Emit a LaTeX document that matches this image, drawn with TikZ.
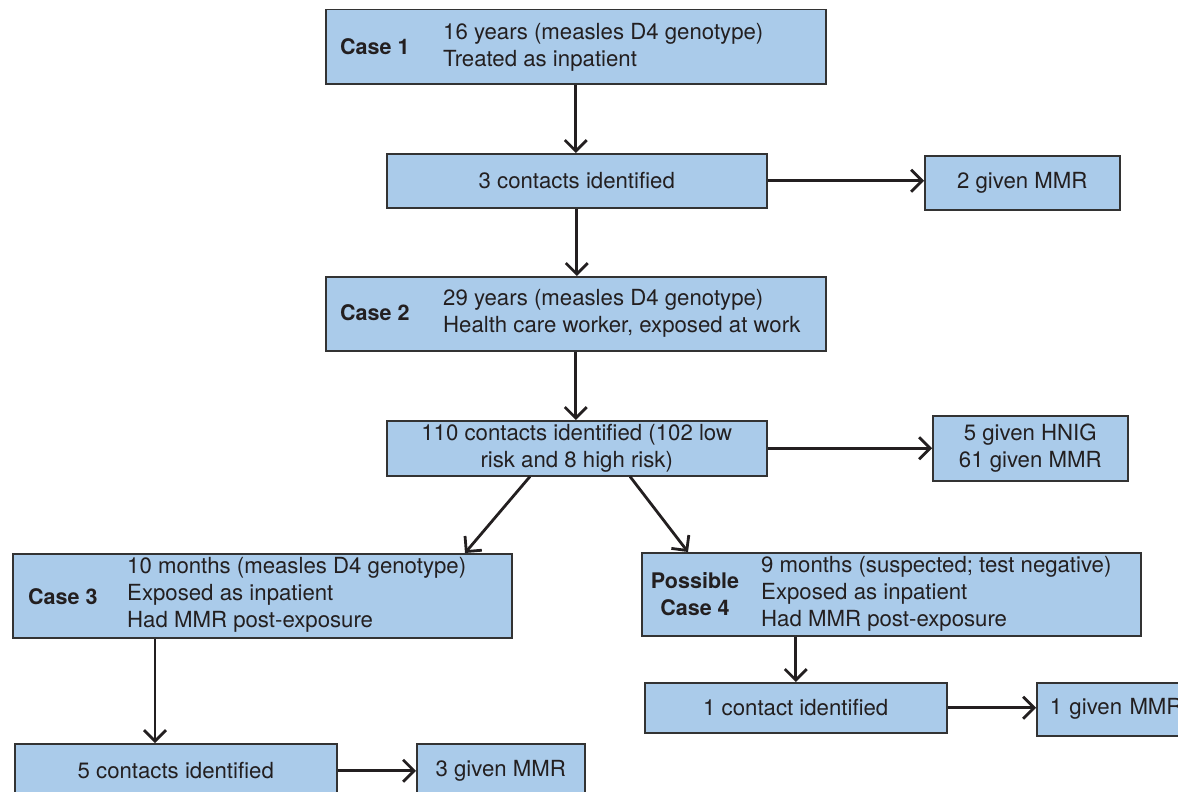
\documentclass[tikz,border=0pt]{standalone}
\usepackage{fontspec}
\setmainfont{TeX Gyre Heros}
\usetikzlibrary{arrows.meta,calc}
\definecolor{boxfill}{HTML}{AACBEA}
\definecolor{boxline}{HTML}{333333}
\definecolor{ink}{HTML}{231F20}
\begin{document}
\begin{tikzpicture}[x=1pt,y=-1pt,
  every node/.style={text=ink,font=\fontsize{22.2}{27}\selectfont},
  box/.style={draw=boxline,fill=boxfill,line width=1.5pt,anchor=north west,inner sep=0pt,align=center},
  lbl/.style={anchor=west,inner sep=0pt,font=\fontsize{21.5}{27}\selectfont\bfseries},
  txt/.style={anchor=west,inner sep=0pt,align=left},
  arr/.style={draw=ink,line width=2.8pt,-{Straight Barb[length=11pt,width=22pt,line width=2.8pt]}}]
\useasboundingbox (0,0) rectangle (1178,792);
\clip (0,0) rectangle (1178,792);
% Case 1
\node[box,minimum width=500pt,minimum height=74pt] (c1) at (325,9) {};
\node[lbl] (c1l) at (340,47) {Case 1};
\node[txt] (c1t) at (443,47) {16 years (measles D4 genotype)\\Treated as inpatient};
% 3 contacts
\node[box,minimum width=380pt,minimum height=54pt] (k1) at (386,153) {3 contacts identified};
\node[box,minimum width=195pt,minimum height=54pt] (g1) at (924,155) {2 given MMR};
% Case 2
\node[box,minimum width=500pt,minimum height=74pt] (c2) at (325,276) {};
\node[lbl] (c2l) at (340,313) {Case 2};
\node[txt] (c2t) at (443,313) {29 years (measles D4 genotype)\\Health care worker, exposed at work};
% 110 contacts
\node[box,minimum width=380pt,minimum height=55pt] (k2) at (386,420) {110 contacts identified (102 low\\risk and 8 high risk)};
\node[box,minimum width=195pt,minimum height=65pt] (g2) at (932,415) {5 given HNIG\\61 given MMR};
% Case 3
\node[box,minimum width=499pt,minimum height=84pt] (c3) at (12,553) {};
\node[lbl] (c3l) at (28,597) {Case 3};
\node[txt] (c3t) at (127,595) {10 months (measles D4 genotype)\\Exposed as inpatient\\Had MMR post-exposure};
% Possible Case 4
\node[box,minimum width=499pt,minimum height=83pt] (c4) at (641,552) {};
\node[lbl,anchor=center,align=center] (c4l) at (695,594) {Possible\\Case 4};
\node[txt] (c4t) at (761,594) {9 months (suspected; test negative)\\Exposed as inpatient\\Had MMR post-exposure};
% 1 contact
\node[box,minimum width=302pt,minimum height=50pt] (k4) at (644,682) {1 contact identified};
\node[box,minimum width=200pt,minimum height=53pt,text width=174pt,align=left,inner xsep=13pt] (g4) at (1036,682) {1 given MMR};
% 5 contacts
\node[box,minimum width=322pt,minimum height=54pt] (k3) at (14,743) {5 contacts identified};
\node[box,minimum width=168pt,minimum height=54pt] (g3) at (416,743) {3 given MMR};
% connectors
\draw[arr] (c1.south) -- (k1.north -| c1.south);
\draw[arr] (k1.east) -- (k1.east -| g1.west);
\draw[arr] (k1.south) -- (c2.north -| k1.south);
\draw[arr] (c2.south) -- (k2.north -| c2.south);
\draw[arr] (k2.east) -- (k2.east -| g2.west);
\draw[arr] ([xshift=144pt]k2.south west) -- ([xshift=453pt]c3.north west);
\draw[arr] ([xshift=244pt]k2.south west) -- ([xshift=47pt]c4.north west);
\draw[arr] ([xshift=143pt]c3.south west) -- ([xshift=141pt]k3.north west);
\draw[arr] (k4.north |- c4.south) -- (k4.north);
\draw[arr] (k4.east) -- (k4.east -| g4.west);
\draw[arr] (k3.east) -- (k3.east -| g3.west);
\end{tikzpicture}
\end{document}
